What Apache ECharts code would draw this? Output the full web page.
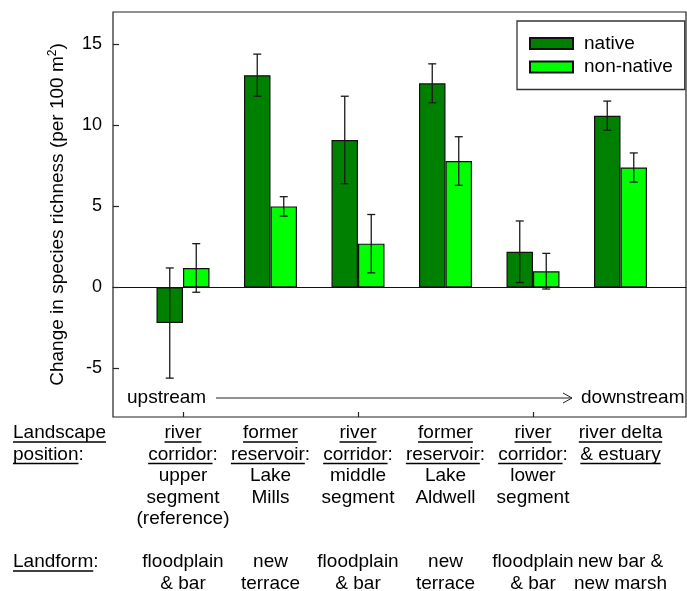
<!DOCTYPE html>
<html><head><meta charset="utf-8">
<script src="https://cdn.jsdelivr.net/npm/echarts@6/dist/echarts.min.js"></script>
<style>html,body{margin:0;padding:0;background:#fff}#c{width:687px;height:591px}</style>
</head><body><div id="c"></div>
<script>
// ---- data ----
const categories = ['upper segment', 'Lake Mills', 'middle segment', 'Lake Aldwell', 'lower segment', 'river delta'];
const nativeValues = [-2.2, 13.1, 9.1, 12.6, 2.2, 10.6];
const nativeLow = [-5.6, 11.8, 6.4, 11.4, 0.3, 9.7];
const nativeHigh = [1.2, 14.4, 11.8, 13.8, 4.1, 11.5];
const nonNativeValues = [1.2, 5.0, 2.7, 7.8, 1.0, 7.4];
const nonNativeLow = [-0.3, 4.4, 0.9, 6.3, -0.1, 6.5];
const nonNativeHigh = [2.7, 5.6, 4.5, 9.3, 2.1, 8.3];
const yTicks = [-5, 0, 5, 10, 15];
const yMin = -8, yMax = 17;
// landscape position labels: each line = list of [text, underlined]
const positionLabels = [
  [[['river', 1]], [['corridor', 1], [':', 0]], [['upper', 0]], [['segment', 0]], [['(reference)', 0]]],
  [[['former', 1]], [['reservoir', 1], [':', 0]], [['Lake', 0]], [['Mills', 0]]],
  [[['river', 1]], [['corridor', 1], [':', 0]], [['middle', 0]], [['segment', 0]]],
  [[['former', 1]], [['reservoir', 1], [':', 0]], [['Lake', 0]], [['Aldwell', 0]]],
  [[['river', 1]], [['corridor', 1], [':', 0]], [['lower', 0]], [['segment', 0]]],
  [[['river delta', 1]], [['& estuary', 1]]]
];
const landformLabels = [
  ['floodplain', '& bar'], ['new', 'terrace'], ['floodplain', '& bar'],
  ['new', 'terrace'], ['floodplain', '& bar'], ['new bar &', 'new marsh']
];
const rowTitles = [[[['Landscape', 1]], [['position', 1], [':', 0]]], [[['Landform', 1], [':', 0]]]];

// ---- chart ----
const FONT = '"Liberation Sans", Arial, sans-serif';
const FS = 19;
const BW = 26.5;
const chart = echarts.init(document.getElementById('c'));

function errRender(sign) {
  return function (params, api) {
    const i = api.value(0);
    const lo = api.coord([i, api.value(1)]);
    const hi = api.coord([i, api.value(2)]);
    const x = lo[0] + sign * BW / 2;
    const cap = 4;
    const st = { stroke: '#1a1a1a', lineWidth: 1.3 };
    return { type: 'group', children: [
      { type: 'line', shape: { x1: x, y1: lo[1], x2: x, y2: hi[1] }, style: st },
      { type: 'line', shape: { x1: x - cap, y1: hi[1], x2: x + cap, y2: hi[1] }, style: st },
      { type: 'line', shape: { x1: x - cap, y1: lo[1], x2: x + cap, y2: lo[1] }, style: st }
    ] };
  };
}

chart.setOption({
  animation: false,
  backgroundColor: '#fff',
  textStyle: { fontFamily: FONT },
  grid: [
    { left: 113, right: 1, top: 12, bottom: 174, show: true, borderColor: '#222', borderWidth: 1.2, backgroundColor: 'transparent' },
    { left: 139.25, right: 22.75, top: 12, bottom: 174 }
  ],
  xAxis: [
    { gridIndex: 0, type: 'value', min: 0, max: 1,
      axisLine: { show: true, onZero: true, lineStyle: { color: '#111', width: 1.2 } },
      axisTick: { show: false }, axisLabel: { show: false }, splitLine: { show: false } },
    { gridIndex: 1, type: 'category', data: categories,
      axisLine: { show: false, onZero: false },
      axisTick: { show: true, inside: true, alignWithLabel: true, length: 5, lineStyle: { color: '#222', width: 1.2 } },
      axisLabel: { show: false }, splitLine: { show: false } }
  ],
  yAxis: [
    { gridIndex: 0, type: 'value', min: yMin, max: yMax,
      axisLine: { show: false },
      axisTick: { show: true, inside: true, length: 6, customValues: yTicks, lineStyle: { color: '#222', width: 1.2 } },
      axisLabel: { customValues: yTicks, fontSize: 18, color: '#000', margin: 11, fontFamily: FONT },
      splitLine: { show: false },
      name: 'Change in species richness (per 100 m{sup|2})', nameLocation: 'middle', nameRotate: 90, nameGap: 44,
      nameTextStyle: { fontSize: FS, color: '#000', fontFamily: FONT, lineHeight: 22,
        rich: { sup: { fontSize: 12, verticalAlign: 'top', lineHeight: 22, color: '#000', fontFamily: FONT } } } },
    { gridIndex: 1, type: 'value', min: yMin, max: yMax, show: false, splitLine: { show: false } }
  ],
  legend: {
    data: ['native', 'non-native'], orient: 'vertical', left: 517, top: 21, icon: 'rect',
    padding: [13, 12, 13, 12], itemWidth: 43, itemHeight: 11, itemGap: 4.5,
    borderColor: '#333', borderWidth: 1.3, backgroundColor: '#fff',
    textStyle: { fontSize: FS, color: '#000', fontFamily: FONT, padding: [0, 0, 0, 6] }
  },
  series: [
    { name: 'native', type: 'bar', xAxisIndex: 1, yAxisIndex: 1, data: nativeValues, barWidth: BW, barGap: '0%',
      itemStyle: { color: '#008000', borderColor: '#111', borderWidth: 1.2 } },
    { name: 'non-native', type: 'bar', xAxisIndex: 1, yAxisIndex: 1, data: nonNativeValues, barWidth: BW, barGap: '0%',
      itemStyle: { color: '#00ff00', borderColor: '#111', borderWidth: 1.2 } },
    { type: 'custom', xAxisIndex: 1, yAxisIndex: 1, renderItem: errRender(-1), z: 5,
      data: categories.map((c, i) => [i, nativeLow[i], nativeHigh[i]]), encode: { x: 0, y: [1, 2] } },
    { type: 'custom', xAxisIndex: 1, yAxisIndex: 1, renderItem: errRender(1), z: 5,
      data: categories.map((c, i) => [i, nonNativeLow[i], nonNativeHigh[i]]), encode: { x: 0, y: [1, 2] } }
  ]
});

// ---- annotation text below the plot ----
const ctx = document.createElement('canvas').getContext('2d');
ctx.font = FS + 'px ' + FONT;
const measure = t => ctx.measureText(t).width;
const gfx = [];
function addLine(segs, x, y, align) {
  const total = segs.reduce((s, g) => s + measure(g[0]), 0);
  let cx = align === 'center' ? x - total / 2 : x;
  segs.forEach(g => {
    const w = measure(g[0]);
    gfx.push({ type: 'text', x: cx, y: y, style: { text: g[0], font: FS + 'px ' + FONT, fill: '#000', textAlign: 'left', textVerticalAlign: 'middle' } });
    if (g[1]) gfx.push({ type: 'line', shape: { x1: cx, y1: y + 9, x2: cx + w, y2: y + 9 }, style: { stroke: '#000', lineWidth: 1.3 } });
    cx += w;
  });
}
const LH = 21.5, posTop = 433, formTop = 562;
rowTitles[0].forEach((l, k) => addLine(l, 13, posTop + k * LH, 'left'));
rowTitles[1].forEach((l, k) => addLine(l, 13, formTop + k * LH, 'left'));
categories.forEach((c, i) => {
  const cx = chart.convertToPixel({ xAxisIndex: 1 }, c);
  positionLabels[i].forEach((l, k) => addLine(l, cx, posTop + k * LH, 'center'));
  landformLabels[i].forEach((t, k) => addLine([[t, 0]], cx, formTop + k * LH, 'center'));
});
// upstream -> downstream arrow
const ay = 398;
gfx.push({ type: 'text', x: 127, y: ay, style: { text: 'upstream', font: FS + 'px ' + FONT, fill: '#000', textVerticalAlign: 'middle' } });
gfx.push({ type: 'text', x: 581, y: ay, style: { text: 'downstream', font: FS + 'px ' + FONT, fill: '#000', textVerticalAlign: 'middle' } });
gfx.push({ type: 'line', shape: { x1: 216, y1: ay, x2: 572, y2: ay }, style: { stroke: '#222', lineWidth: 1 } });
gfx.push({ type: 'polyline', shape: { points: [[563, ay - 5], [572, ay], [563, ay + 5]] }, style: { stroke: '#222', lineWidth: 1, fill: null } });
chart.setOption({ graphic: gfx });
</script></body></html>
